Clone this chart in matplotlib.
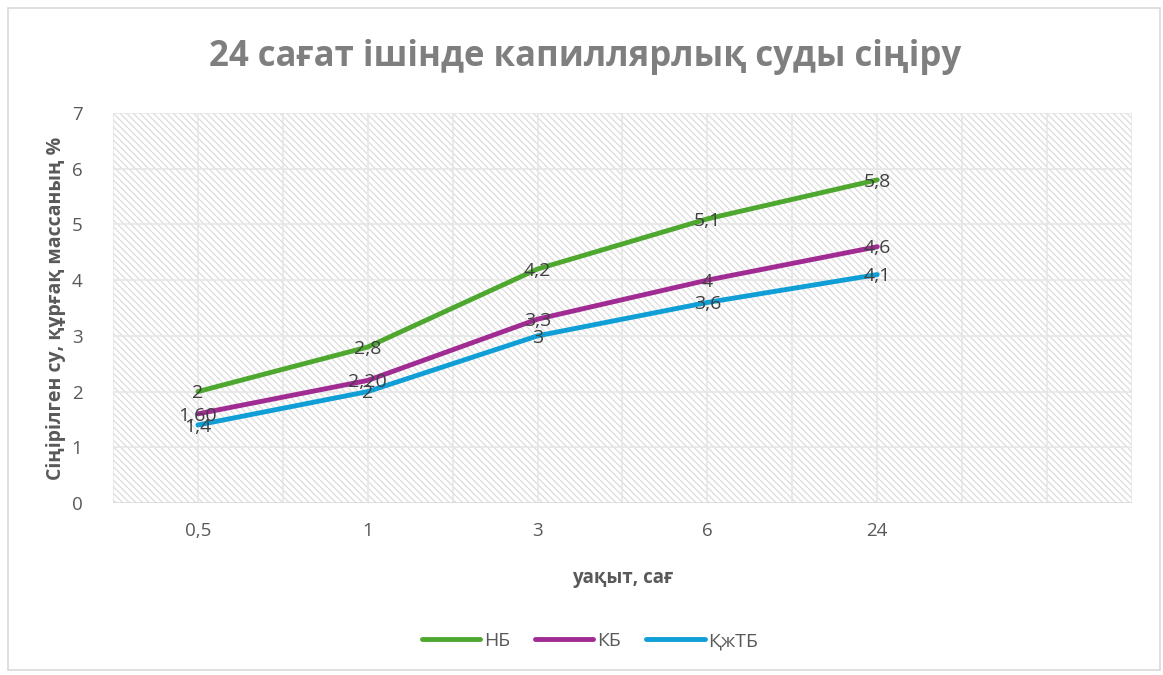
import matplotlib.pyplot as plt
from matplotlib.patches import Rectangle

# данные
categorias = ['0,5', '1', '3', '6', '24', '']
series = ['НБ', 'КБ', 'ҚжТБ']
nb = [2, 2.8, 4.2, 5.1, 5.8]
kb = [1.6, 2.2, 3.3, 4, 4.6]
kjtb = [1.4, 2, 3, 3.6, 4.1]
rotulos_nb = ['2', '2,8', '4,2', '5,1', '5,8']
rotulos_kb = ['1,60', '2,20', '3,3', '4', '4,6']
rotulos_kjtb = ['1,4', '2', '3', '3,6', '4,1']

cores = ['#4ea72e', '#a02b93', '#0f9ed5']

plt.rcParams['font.family'] = ['Open Sans', 'DejaVu Sans']
plt.rcParams['hatch.linewidth'] = 0.9

fig = plt.figure(figsize=(11.63, 6.75), dpi=100)
fig.patches.append(Rectangle((8 / 1163, 5 / 675), 1152 / 1163, 662 / 675,
                             transform=fig.transFigure, fill=False,
                             edgecolor='#d9d9d9', lw=1.2))

ax = fig.add_axes([113 / 1163, 172 / 675, 1019 / 1163, 390 / 675])
ax.set_xlim(-0.5, len(categorias) - 0.5)
ax.set_ylim(0, 7)

# fundo hachurado
ax.add_patch(Rectangle((0, 0), 1, 1, transform=ax.transAxes, facecolor='white',
                       edgecolor='#dcdcdc', hatch='\\' * 5, lw=0, zorder=0))

# grade
for k in range(0, 2 * len(categorias) + 1):
    ax.axvline(-0.5 + k * 0.5, color='#e6e6e6', lw=1.2, zorder=1)
for v in range(1, 8):
    ax.axhline(v, color='#e6e6e6', lw=1.2, zorder=1)
ax.axhline(0, color='#d9d9d9', lw=1.2, zorder=1)

x = list(range(len(nb)))
dados = [nb, kb, kjtb]
rotulos = [rotulos_nb, rotulos_kb, rotulos_kjtb]
for serie, ys, rot, cor in zip(series, dados, rotulos, cores):
    ax.plot(x, ys, color=cor, lw=3.5, solid_capstyle='round',
            solid_joinstyle='round', label=serie, zorder=3)
    for xi, yi, r in zip(x, ys, rot):
        ax.text(xi, yi - 0.03, r, ha='center', va='center', fontsize=14,
                color='#404040', zorder=4)

for s in ax.spines.values():
    s.set_visible(False)
ax.set_xticks(range(len(categorias)))
ax.set_xticklabels(categorias)
ax.set_yticks(range(0, 8))
ax.tick_params(length=0, labelsize=13.5, labelcolor='#595959', pad=14)
ax.tick_params(axis='y', pad=22)

ax.set_xlabel('уақыт, сағ', fontsize=13.5, fontweight='bold', color='#595959',
              labelpad=20)
ax.set_ylabel('Сіңірілген су, құрғақ массаның %', fontsize=14,
              fontweight='bold', color='#595959', labelpad=4)

fig.text(585 / 1163, 1 - 57 / 675, '24 сағат ішінде капиллярлық суды сіңіру',
         ha='center', va='center', fontsize=25, fontweight='bold',
         color='#7f7f7f')

leg = fig.legend(loc='center', bbox_to_anchor=(590 / 1163, 1 - 641 / 675),
                 ncol=3, frameon=False, fontsize=14, handlelength=3.0,
                 handletextpad=0.2, columnspacing=1.3)
for t in leg.get_texts():
    t.set_color('#595959')

fig.savefig('out.png', dpi=100)
